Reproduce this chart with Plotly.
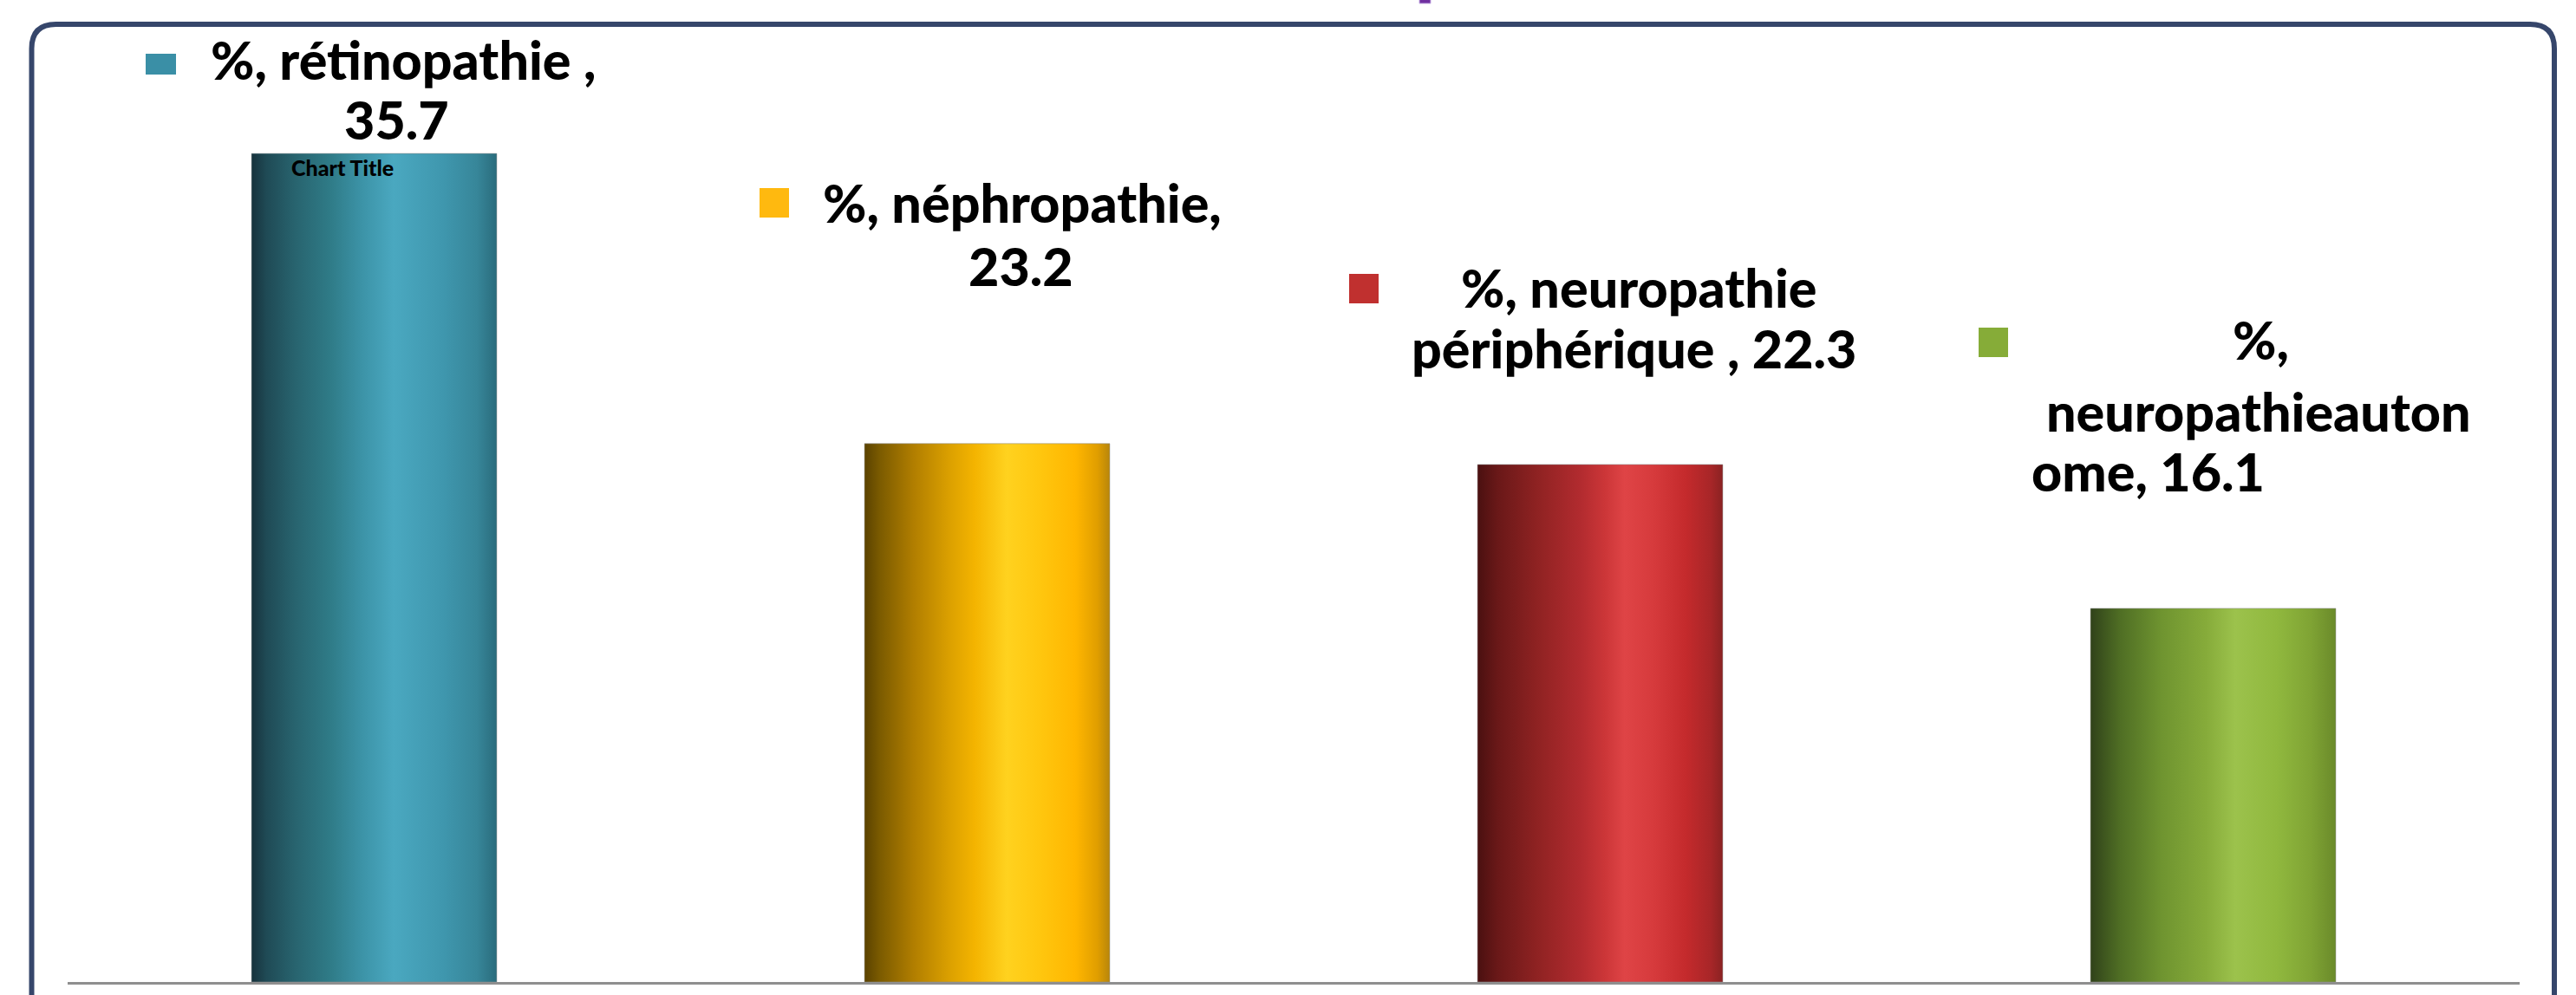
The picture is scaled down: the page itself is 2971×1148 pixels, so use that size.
import plotly.graph_objects as go

# ---------------- data ----------------
categories = ["rétinopathie", "néphropathie", "neuropathie périphérique", "neuropathie autonome"]
values = [35.7, 23.2, 22.3, 16.1]
legend_colors = ["#3a8fa6", "#ffb90f", "#c0302f", "#86ac38"]

# label text lines (value is injected from `values`)
label_templates = [
    ["%, rétinopathie ,", "{v}"],
    ["%, néphropathie,", "{v}"],
    ["%, neuropathie", "périphérique , {v}"],
    ["%,", "neuropathieauton", "ome, {v}"],
]

# horizontal gradient of each cylinder-like bar
gradients = [
    [[0, "#17323c"], [0.06, "#1f4a55"], [0.18, "#28646f"], [0.32, "#2f7b87"], [0.45, "#3c93a7"],
     [0.58, "#4aa8c0"], [0.78, "#3f97ae"], [0.92, "#378699"], [1, "#2a6c7c"]],
    [[0, "#5a4200"], [0.06, "#7a5a00"], [0.2, "#b17e00"], [0.35, "#dca100"], [0.45, "#f4b400"],
     [0.58, "#ffd21f"], [0.72, "#ffc60e"], [0.86, "#ffb600"], [0.95, "#e09e00"], [1, "#b8860b"]],
    [[0, "#4a1010"], [0.08, "#691818"], [0.24, "#8e2222"], [0.42, "#b22b2f"], [0.52, "#cc3638"],
     [0.6, "#df4446"], [0.72, "#d63a3c"], [0.85, "#c42a2c"], [0.95, "#a82628"], [1, "#8a2222"]],
    [[0, "#30421a"], [0.12, "#4f6e24"], [0.29, "#6f9430"], [0.47, "#86ab3a"], [0.59, "#9cc24c"],
     [0.76, "#90b83e"], [0.9, "#7fa334"], [1, "#6a8a2a"]],
]
mid_colors = ["#3c93a7", "#f4b400", "#cc3638", "#86ab3a"]

# ---------------- layout geometry (pixels) ----------------
W, H = 2971, 1148
ML, MR, MT, MB = 78, 65, 62, 15
PW, PH = W - ML - MR, H - MT - MB
YMAX = 40
BAR_W = 0.4
FS = 61            # label font size
FS_SMALL = 25
FONT = "Lato"
WEIGHT = 900

def xpx(xd):
    return ML + (xd + 0.5) / len(values) * PW

def ypx(yd):
    return H - MB - yd / YMAX * PH

def px_paper_x(px):
    return (px - ML) / PW

def px_paper_y(py):
    return (H - MB - py) / PH

# label placements: (anchor, x px, baseline px) per line, and legend-key square (x0, y0, x1, y1)
label_lines_pos = [
    [("center", 465, 92), ("center", 457, 161)],
    [("center", 1179, 257), ("center", 1177, 330)],
    [("center", 1890, 355), ("center", 1884, 425)],
    [("center", 2607, 415), ("center", 2604, 498), ("left", 2341, 567)],
]
label_squares = [
    (168, 52, 203, 86),
    (876, 217, 910, 251),
    (1556, 316, 1590, 350),
    (2282, 378, 2316, 412),
]

fig = go.Figure()

xs = list(range(len(values)))
fig.add_trace(go.Bar(x=xs, y=values, width=BAR_W, marker=dict(color=mid_colors, line=dict(width=0)),
                     hoverinfo="skip", showlegend=False))

for i, v in enumerate(values):
    x0, x1 = i - BAR_W / 2, i + BAR_W / 2
    fig.add_trace(go.Scatter(
        x=[x0, x0, x1, x1, x0], y=[0, v, v, 0, 0],
        mode="lines", fill="toself",
        fillgradient=dict(type="horizontal", colorscale=gradients[i]),
        line=dict(color="rgba(140,140,140,0.55)", width=1),
        hoverinfo="skip", showlegend=False,
    ))

annotations = []
shapes = []
for i, v in enumerate(values):
    texts = [t.format(v=f"{v:.1f}") for t in label_templates[i]]
    for text, (anchor, px, base) in zip(texts, label_lines_pos[i]):
        center_y = base - 0.387 * FS
        annotations.append(dict(
            x=i, y=v, xref="x", yref="y",
            xshift=px - xpx(i), yshift=ypx(v) - center_y,
            text=text, showarrow=False,
            xanchor=anchor, yanchor="middle",
            font=dict(family=FONT, size=FS, color="#000000", weight=WEIGHT),
        ))
    sx0, sy0, sx1, sy1 = label_squares[i]
    shapes.append(dict(
        type="rect", xref="x", yref="y", xsizemode="pixel", ysizemode="pixel",
        xanchor=i, yanchor=v,
        x0=sx0 - xpx(i), x1=sx1 - xpx(i),
        y0=ypx(v) - sy0, y1=ypx(v) - sy1,
        fillcolor=legend_colors[i], line=dict(width=0),
    ))

# "Chart Title" leftover text
annotations.append(dict(
    x=px_paper_x(395), y=px_paper_y(203 - 0.387 * FS_SMALL), xref="paper", yref="paper",
    text="Chart Title", showarrow=False, xanchor="center", yanchor="middle",
    font=dict(family=FONT, size=FS_SMALL, color="#000000", weight=WEIGHT),
))

# rounded frame (bottom runs off the page)
L, R, T, B, RAD = 36.5, 2946, 28, 1175, 28
fx = px_paper_x
fy = px_paper_y
path = (f"M {fx(L)},{fy(B)} L {fx(L)},{fy(T + RAD)} Q {fx(L)},{fy(T)} {fx(L + RAD)},{fy(T)} "
        f"L {fx(R - RAD)},{fy(T)} Q {fx(R)},{fy(T)} {fx(R)},{fy(T + RAD)} L {fx(R)},{fy(B)}")
shapes.append(dict(type="path", xref="paper", yref="paper", path=path,
                   line=dict(color="#36466b", width=6), layer="above"))

# small purple fragment at the top edge
shapes.append(dict(type="rect", xref="paper", yref="paper",
                   x0=fx(1637), x1=fx(1650), y0=fy(-3), y1=fy(4),
                   fillcolor="#7030a0", line=dict(color="#c9b3e6", width=1)))

fig.update_layout(
    width=W, height=H,
    margin=dict(l=ML, r=MR, t=MT, b=MB, pad=0),
    paper_bgcolor="#ffffff", plot_bgcolor="#ffffff",
    showlegend=False,
    xaxis=dict(range=[-0.5, len(values) - 0.5], showticklabels=False, showgrid=False,
               zeroline=False, showline=True, linecolor="#8f8f8f", linewidth=3, ticks=""),
    yaxis=dict(range=[0, YMAX], visible=False, showgrid=False, zeroline=False),
    annotations=annotations,
    shapes=shapes,
    bargap=0,
)

fig.write_html("out.html", config={"displayModeBar": False},
               post_script="document.body.style.margin='0';document.body.style.overflow='hidden';")
